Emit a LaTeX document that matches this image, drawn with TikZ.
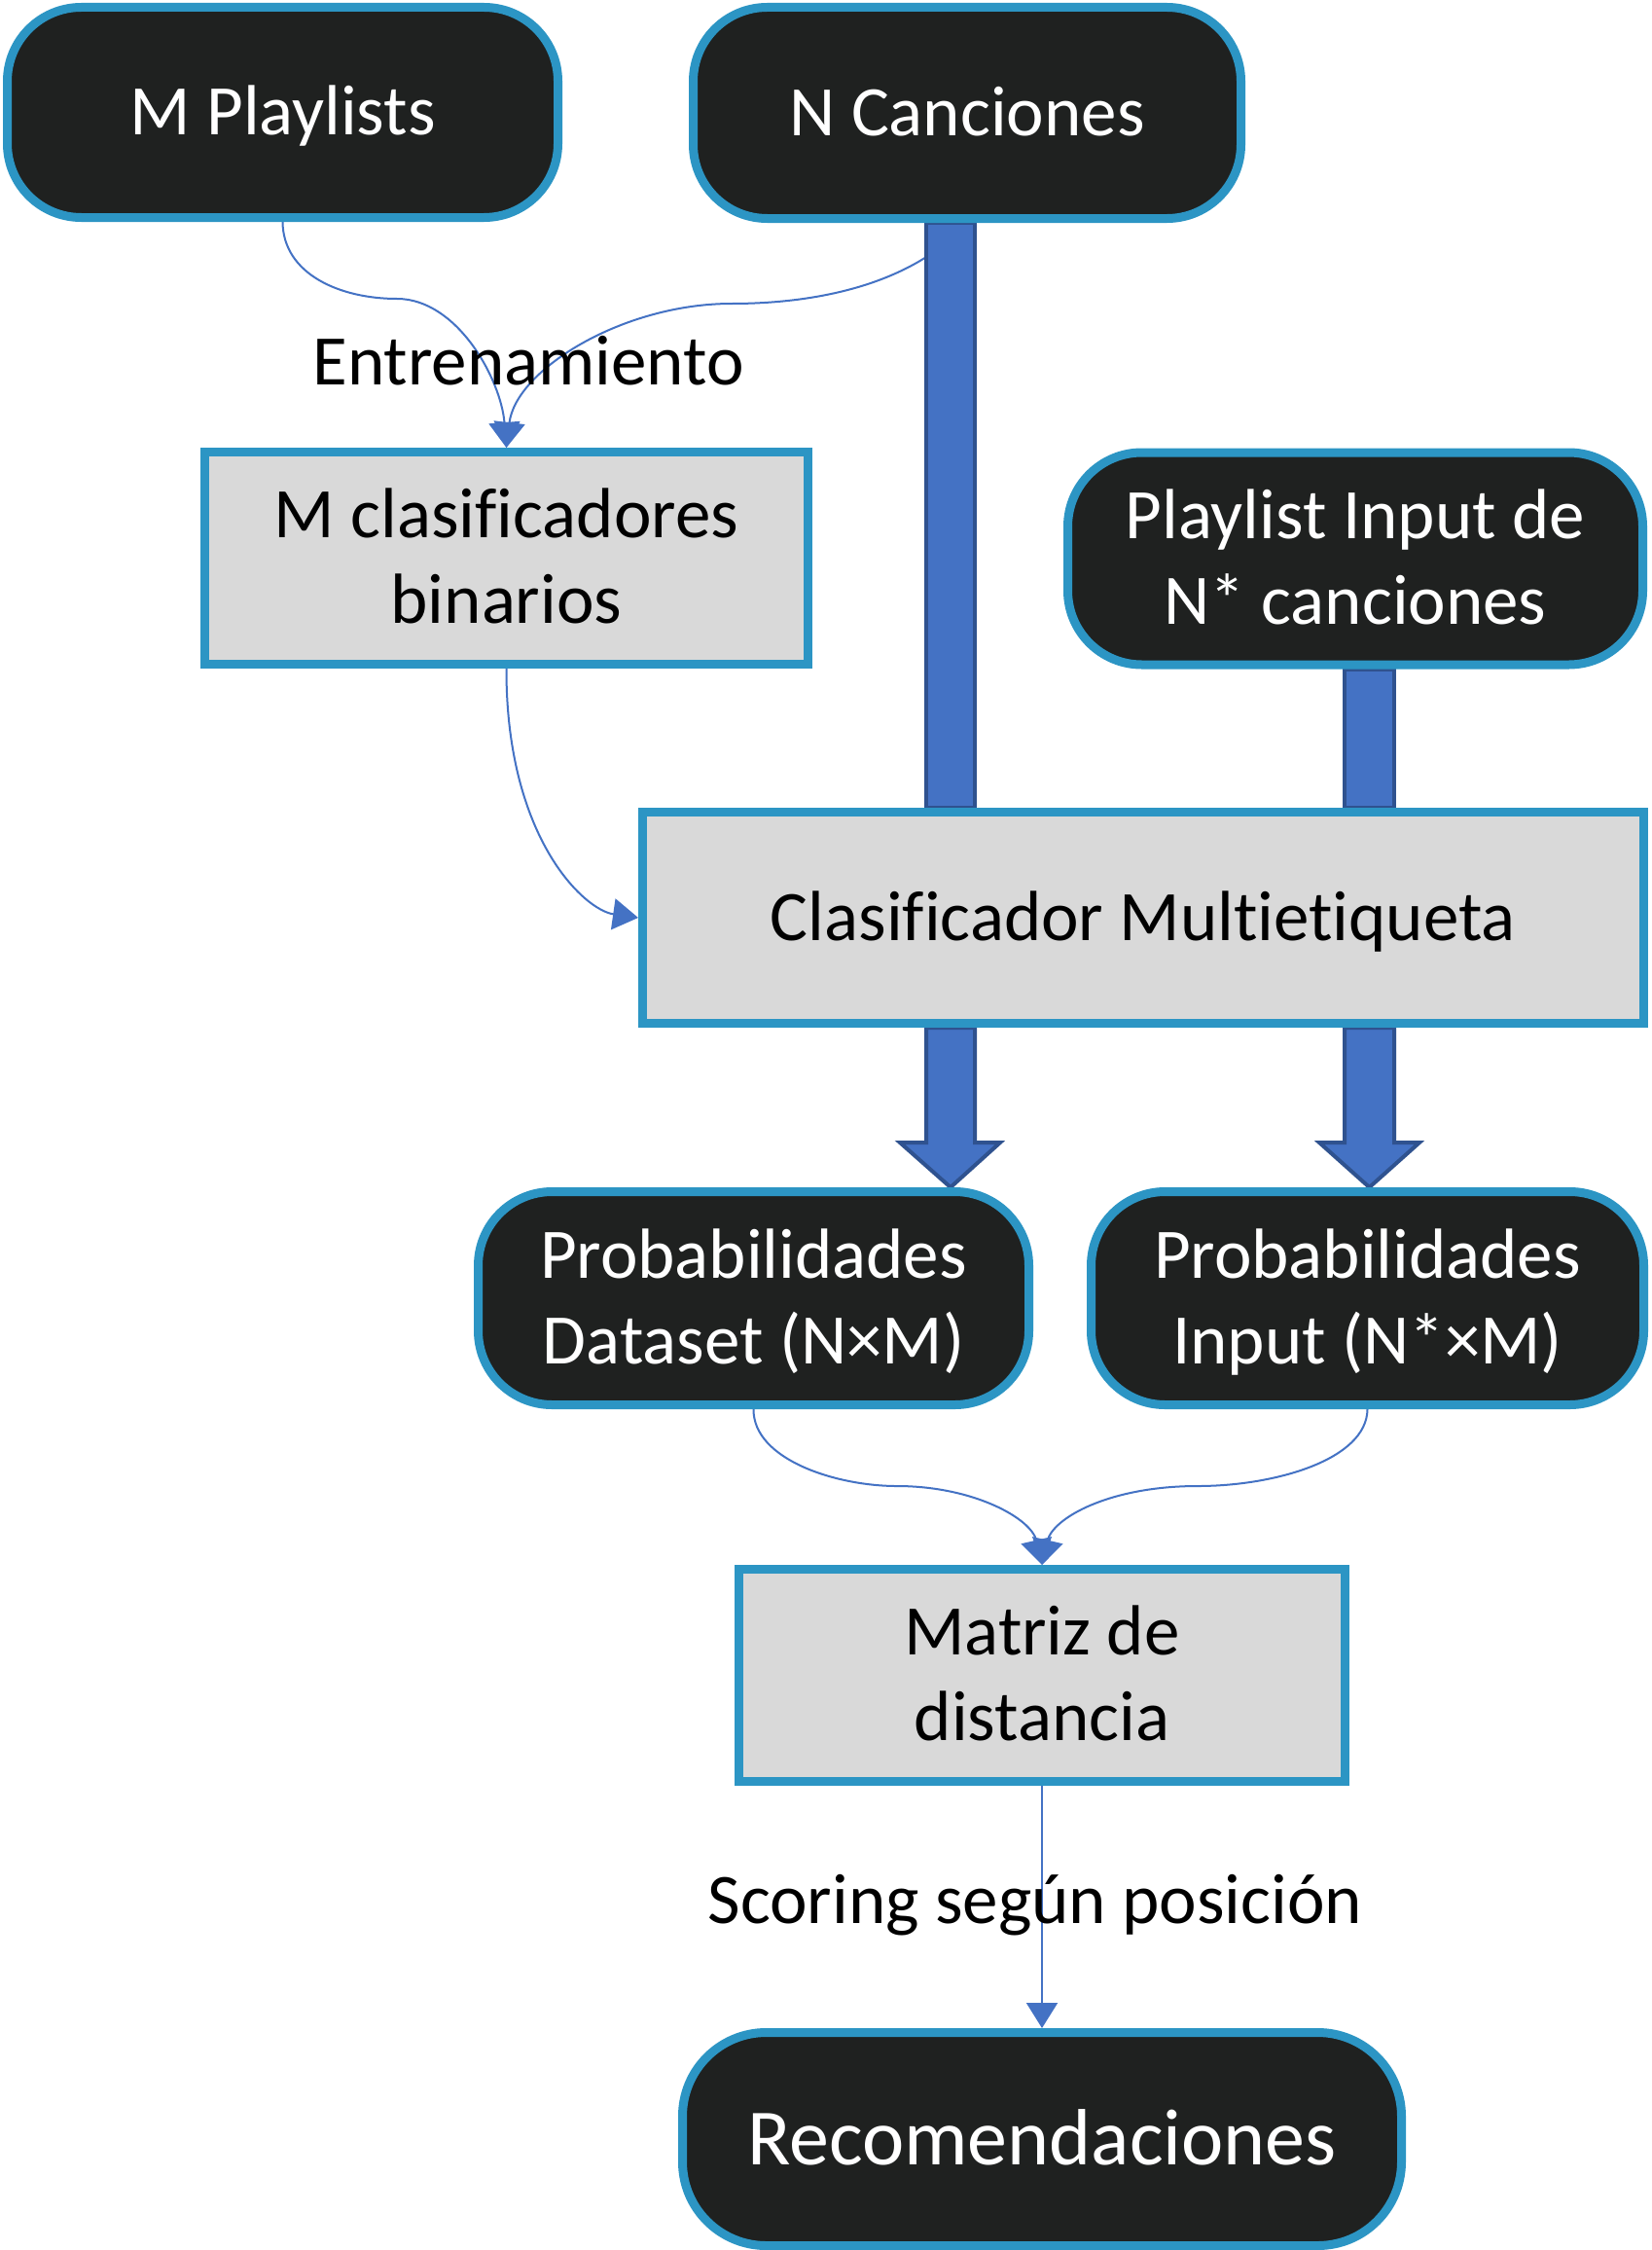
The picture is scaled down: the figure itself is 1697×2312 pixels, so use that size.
\documentclass[tikz,border=0pt]{standalone}
\usepackage{fontspec}
\setmainfont{Carlito}[Ligatures=NoCommon]
\usetikzlibrary{arrows.meta,calc}
\pgfdeclarelayer{bg}
\pgfsetlayers{bg,main}
\definecolor{boxblue}{RGB}{44,149,196}
\definecolor{darkfill}{RGB}{31,33,32}
\definecolor{lightfill}{RGB}{217,217,217}
\definecolor{barfill}{RGB}{68,114,196}
\definecolor{barborder}{RGB}{47,82,143}
\definecolor{connblue}{RGB}{68,114,196}
\newcommand\mystrut{\rule[-0.23em]{0pt}{1.1em}}
\begin{document}
\begin{tikzpicture}[x=1pt,y=-1pt,
  txt/.style={font=\fontsize{73pt}{88pt}\selectfont},
  darkbox/.style={txt, draw=boxblue, fill=darkfill, line width=9pt, rounded corners=76pt, text=white, align=center, inner sep=0pt},
  lightbox/.style={txt, draw=boxblue, fill=lightfill, line width=9pt, text=black, align=center, inner sep=0pt},
  conn/.style={draw=connblue, line width=2pt, -{Triangle[width=32pt,length=26pt]}},
  barshape/.style={fill=barfill, draw=barborder, line width=4pt},
  lbl/.style={txt, text=black, inner sep=0pt}
]
\useasboundingbox (0,0) rectangle (1697,2312);

\node[darkbox, minimum width=566pt, minimum height=216pt] (mp) at (290.5,115.5) {\mystrut M Playlists};
\node[darkbox, minimum width=563pt, minimum height=217pt] (nc) at (994,116) {\mystrut N Canciones};
\node[lightbox, minimum width=620pt, minimum height=218pt] (mcb) at (520.5,573.5) {\mystrut M clasificadores\\\mystrut binarios};
\node[darkbox, minimum width=591pt, minimum height=218pt] (pi) at (1393,574) {\mystrut Playlist Input de\\\mystrut N* canciones};
\node[lightbox, minimum width=1029pt, minimum height=217pt] (cm) at (1175,943) {\mystrut Clasificador Multietiqueta};
\node[darkbox, minimum width=566pt, minimum height=219pt] (pd) at (774.5,1334) {\mystrut Probabilidades\\\mystrut Dataset (N×M)};
\node[darkbox, minimum width=568pt, minimum height=219pt] (pin) at (1405.5,1334) {\mystrut Probabilidades\\\mystrut Input (N*×M)};
\node[lightbox, minimum width=623pt, minimum height=218pt] (md) at (1071,1721.5) {\mystrut Matriz de\\\mystrut distancia};
\node[darkbox, minimum width=739pt, minimum height=219pt, font=\fontsize{82pt}{96pt}\selectfont, rounded corners=86pt] (rec) at (1071,2198) {\mystrut Recomendaciones};

\node[lbl, anchor=base] (lent) at (543,395) {Entrenamiento};
\node[lbl, anchor=base] (lsco) at (1064,1976) {Scoring según posición};

\begin{pgfonlayer}{bg}
  \fill[white] (0,0) rectangle (1697,2312);
  \draw[conn] (mp.south) .. controls (291,282) and (350,307) .. (408,307)
              .. controls (470,307) and (515,390) .. (mcb.north);
  \draw[conn] (nc.south) .. controls (930,300) and (820,312) .. (752,312)
              .. controls (640,312) and (530,380) .. (mcb.north);
  \draw[conn] (mcb.south) .. controls (520,860) and (600,935) .. (cm.west);
  \draw[conn] (pd.south) .. controls (774,1500) and (860,1527) .. (922,1527)
              .. controls (1000,1527) and (1060,1560) .. (md.north);
  \draw[conn] (pin.south) .. controls (1405,1500) and (1310,1527) .. (1231,1527)
              .. controls (1140,1527) and (1082,1560) .. (md.north);
  \draw[conn] (md.south) -- (rec.north);

  \draw[barshape] (952,0 |- nc.south) rectangle (1002,0 |- cm.north);
  \draw[barshape] (1382,0 |- pi.south) rectangle (1433,0 |- cm.north);
  \draw[barshape, line join=miter] (952,0 |- cm.south) -- (952,1174) -- (925,1174) -- (977,0 |- pd.north)
        -- (1028,1174) -- (1002,1174) -- (1002,0 |- cm.south) -- cycle;
  \draw[barshape, line join=miter] (1382,0 |- cm.south) -- (1382,1174) -- (1356,1174) -- (1407.5,0 |- pin.north)
        -- (1459,1174) -- (1433,1174) -- (1433,0 |- cm.south) -- cycle;
\end{pgfonlayer}
\end{tikzpicture}
\end{document}
